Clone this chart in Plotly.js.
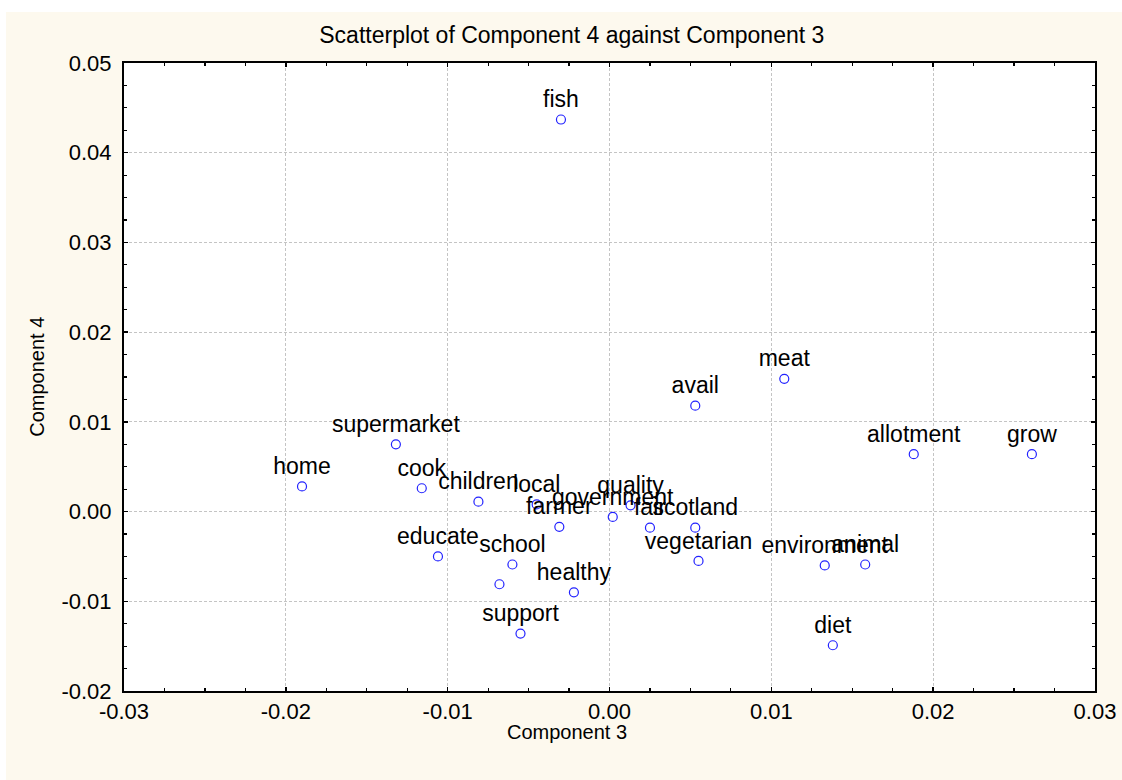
<!DOCTYPE html>
<html>
<head>
<meta charset="utf-8">
<script src="https://cdn.plot.ly/plotly-3.0.1.min.js"></script>
<style>
  html, body { margin:0; padding:0; background:#ffffff; width:1122px; height:780px; overflow:hidden; }
  #chart { position:absolute; left:6px; top:12px; width:1116px; height:768px; }
</style>
</head>
<body>
<div id="chart"></div>
<script>
// Data
const words = ['fish','meat','avail','allotment','grow','supermarket','home','cook','children','local',
               'quality','government','farmer','fair','scotland','vegetarian','environment','animal',
               'educate','school','','healthy','support','diet'];
const component3 = [-0.0030, 0.0108, 0.0053, 0.0188, 0.0261, -0.0132, -0.0190, -0.0116, -0.0081, -0.0045,
                    0.0013, 0.0002, -0.0031, 0.0025, 0.0053, 0.0055, 0.0133, 0.0158,
                    -0.0106, -0.0060, -0.0068, -0.0022, -0.0055, 0.0138];
const component4 = [0.0437, 0.0148, 0.0118, 0.0064, 0.0064, 0.0075, 0.0028, 0.0026, 0.0011, 0.0008,
                    0.0007, -0.0006, -0.0017, -0.0018, -0.0018, -0.0055, -0.0060, -0.0059,
                    -0.0050, -0.0059, -0.0081, -0.0090, -0.0136, -0.0149];

const xTickVals = [-0.03, -0.02, -0.01, 0.00, 0.01, 0.02, 0.03];
const xTickText = ['-0.03', '-0.02', '-0.01', '0.00', '0.01', '0.02', '0.03'];
const yTickVals = [-0.02, -0.01, 0.00, 0.01, 0.02, 0.03, 0.04, 0.05];
const yTickText = ['-0.02', '-0.01', '0.00', '0.01', '0.02', '0.03', '0.04', '0.05'];

const FONT = 'Arial, "Liberation Sans", sans-serif';

const trace = {
  type: 'scatter',
  mode: 'markers+text',
  x: component3,
  y: component4,
  text: words,
  textposition: 'top center',
  textfont: { family: FONT, size: 23, color: '#000000' },
  marker: { symbol: 'circle-open', size: 9, color: '#2222ff', line: { width: 1.2, color: '#2222ff' } },
  cliponaxis: false,
  hoverinfo: 'x+y+text'
};

const axisCommon = {
  showline: true, linecolor: '#000000', linewidth: 2, mirror: 'ticks',
  ticks: 'inside', ticklen: 4, tickwidth: 1.5, tickcolor: '#000000',
  showgrid: true, gridcolor: '#c4c4c4', gridwidth: 1, griddash: '3px,2px',
  zeroline: false,
  tickfont: { family: FONT, size: 22, color: '#000000' },
  minor: { ticks: 'inside', ticklen: 3, tickwidth: 1.2, tickcolor: '#000000', showgrid: false }
};

const layout = {
  width: 1116, height: 768,
  paper_bgcolor: '#fdf9ee',
  plot_bgcolor: '#ffffff',
  margin: { l: 118, r: 27, t: 51, b: 88.5 },
  showlegend: false,
  title: {
    text: 'Scatterplot of Component 4 against Component 3',
    font: { family: FONT, size: 23, color: '#000000' },
    xref: 'container', x: 0.507, xanchor: 'center',
    yref: 'container', y: 0.970, yanchor: 'middle'
  },
  xaxis: Object.assign({}, axisCommon, {
    range: [-0.03, 0.03], tickmode: 'array', tickvals: xTickVals, ticktext: xTickText,
    ticklabelstandoff: 0,
    minor: Object.assign({}, axisCommon.minor, { dtick: 0.0025, tick0: 0 })
  }),
  yaxis: Object.assign({}, axisCommon, {
    range: [-0.02, 0.05], tickmode: 'array', tickvals: yTickVals, ticktext: yTickText,
    ticklabelstandoff: 6,
    minor: Object.assign({}, axisCommon.minor, { dtick: 0.0025, tick0: 0 })
  }),
  annotations: [
    { text: 'Component 3', xref: 'paper', yref: 'paper', x: 0.456, y: -0.066,
      xanchor: 'center', yanchor: 'middle', showarrow: false,
      font: { family: FONT, size: 20, color: '#000000' } },
    { text: 'Component 4', xref: 'paper', yref: 'paper', x: -0.0896, y: 0.5004,
      xanchor: 'center', yanchor: 'middle', showarrow: false, textangle: -90,
      font: { family: FONT, size: 20, color: '#000000' } }
  ]
};

Plotly.newPlot('chart', [trace], layout, { displayModeBar: false, staticPlot: true });
</script>
</body>
</html>
